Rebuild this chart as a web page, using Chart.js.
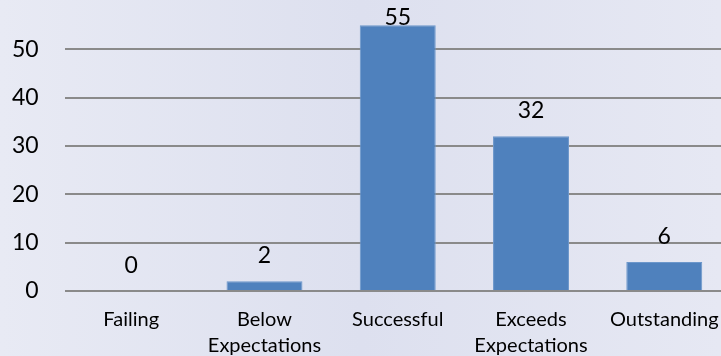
<!DOCTYPE html>
<html>
<head>
<meta charset="utf-8">
<script src="https://cdn.jsdelivr.net/npm/chart.js@4"></script>
<style>
  html, body { margin: 0; padding: 0; overflow: hidden; }
  body {
    width: 721px; height: 356px;
    background: linear-gradient(to right, #e8eaf4 0%, #dde0ef 50%, #e6e8f3 100%);
  }
  #wrap { width: 735px; height: 356px; }
</style>
</head>
<body>
<div id="wrap"><canvas id="chart" width="735" height="356"></canvas></div>
<script>
// Rating distribution
const categories = ['Failing', ['Below', 'Expectations'], 'Successful', ['Exceeds', 'Expectations'], 'Outstanding'];
const counts = [0, 2, 55, 32, 6];
const yMax = 60;

const barColor = '#4f81bd';
const gridColor = '#8a8a8a';
const textColor = '#000000';
const fontFamily = "Lato, 'Liberation Sans', sans-serif";

// Simple value labels above each bar (no datalabels plugin available)
const valueLabels = {
  id: 'valueLabels',
  afterDatasetsDraw(chart) {
    const ctx = chart.ctx;
    const meta = chart.getDatasetMeta(0);
    ctx.save();
    ctx.font = `23px ${fontFamily}`;
    ctx.fillStyle = '#000';
    ctx.textAlign = 'center';
    ctx.textBaseline = 'alphabetic';
    meta.data.forEach((bar, i) => {
      let y = bar.y - 18.5;
      // keep label inside the picture when the bar is near the top
      y = Math.max(y, chart.chartArea.top + 24);
      ctx.fillText(String(counts[i]), bar.x, y);
    });
    ctx.restore();
  }
};

new Chart(document.getElementById('chart').getContext('2d'), {
  type: 'bar',
  data: {
    labels: categories,
    datasets: [{
      data: counts,
      backgroundColor: barColor,
      borderColor: '#6c97cb',
      borderWidth: 1,
      categoryPercentage: 1,
      barPercentage: 0.57
    }]
  },
  options: {
    responsive: false,
    animation: false,
    layout: { padding: { top: 1, right: 4, left: 0, bottom: 0 } },
    plugins: {
      legend: { display: false },
      tooltip: { enabled: false }
    },
    scales: {
      x: {
        grid: { display: false, drawTicks: false },
        border: { display: false },
        ticks: {
          color: textColor,
          font: { family: fontFamily, size: 20, lineHeight: 1.3 },
          padding: 16,
          maxRotation: 0,
          autoSkip: false
        },
        afterFit: s => { s.height = 65; }
      },
      y: {
        min: 0,
        max: yMax,
        grid: { color: gridColor, lineWidth: 2, drawTicks: false },
        border: { display: false },
        ticks: {
          stepSize: 10,
          color: textColor,
          font: { family: fontFamily, size: 23 },
          padding: 26
        },
        afterBuildTicks: s => { s.ticks = s.ticks.filter(t => t.value < yMax); },
        afterFit: s => {
          s.width = 64.6;
          s.paddingTop = 0;
          s.paddingBottom = 0;
        }
      }
    }
  },
  plugins: [valueLabels]
});
</script>
</body>
</html>
